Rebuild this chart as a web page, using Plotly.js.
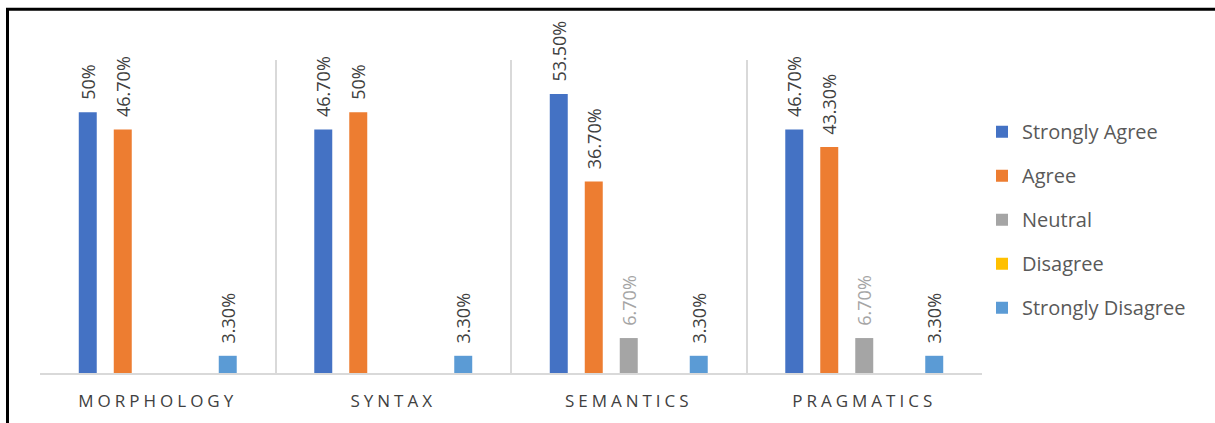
<!DOCTYPE html>
<html>
<head>
<meta charset="utf-8">
<script src="https://cdn.plot.ly/plotly-3.0.1.min.js"></script>
<style>
html,body{margin:0;padding:0;background:#fff;}
#chart{width:1215px;height:423px;}
#chart .xtick text{letter-spacing:4px;}
</style>
</head>
<body>
<div id="chart"></div>
<script>
var categories = ["MORPHOLOGY", "SYNTAX", "SEMANTICS", "PRAGMATICS"];
var seriesNames = ["Strongly Agree", "Agree", "Neutral", "Disagree", "Strongly Disagree"];
var stronglyAgree = [50, 46.7, 53.5, 46.7];
var agree = [46.7, 50, 36.7, 43.3];
var neutral = [0, 0, 6.7, 6.7];
var disagree = [0, 0, 0, 0];
var stronglyDisagree = [3.3, 3.3, 3.3, 3.3];
var labelsStronglyAgree = ["50%", "46.70%", "53.50%", "46.70%"];
var labelsAgree = ["46.70%", "50%", "36.70%", "43.30%"];
var labelsNeutral = ["", "", "6.70%", "6.70%"];
var labelsDisagree = ["", "", "", ""];
var labelsStronglyDisagree = ["3.30%", "3.30%", "3.30%", "3.30%"];

var colors = ["#4472C4", "#ED7D31", "#A5A5A5", "#FFC000", "#5B9BD5"];
var labelColors = ["#404040", "#404040", "#A5A5A5", "#404040", "#404040"];
var values = [stronglyAgree, agree, neutral, disagree, stronglyDisagree];
var labels = [labelsStronglyAgree, labelsAgree, labelsNeutral, labelsDisagree, labelsStronglyDisagree];

var pad = "\u00a0\u00a0";
var traces = seriesNames.map(function(name, i){
  return {
    type: "bar",
    name: name,
    x: categories,
    y: values[i],
    text: labels[i].map(function(t){ return t ? pad + t : ""; }),
    textposition: "outside",
    textangle: -90,
    constraintext: "none",
    cliponaxis: false,
    textfont: {family: "Open Sans, sans-serif", size: 18, color: labelColors[i]},
    marker: {color: colors[i]},
    legendgroup: "g" + i,
    hoverinfo: "skip"
  };
});

var layout = {
  width: 1215, height: 423,
  margin: {l: 40, r: 233, t: 60, b: 50},
  paper_bgcolor: "#fff",
  plot_bgcolor: "#fff",
  barmode: "group",
  bargap: 0.257,
  bargroupgap: 0.486,
  showlegend: true,
  legend: {
    x: 1.0, xanchor: "left", xref: "paper",
    y: 0.49, yanchor: "middle",
    traceorder: "grouped",
    tracegroupgap: 15,
    font: {family: "Open Sans, sans-serif", size: 20, color: "#595959"},
    bgcolor: "rgba(0,0,0,0)"
  },
  xaxis: {
    type: "category",
    tickson: "boundaries",
    showgrid: true,
    gridcolor: "#D9D9D9",
    gridwidth: 2,
    ticks: "",
    ticklabelstandoff: 12,
    showline: true,
    linecolor: "#D9D9D9",
    linewidth: 2,
    tickfont: {family: "Open Sans, sans-serif", size: 17, color: "#404040"},
    zeroline: false,
    fixedrange: true
  },
  yaxis: {
    range: [0, 60],
    showgrid: false,
    showticklabels: false,
    zeroline: false,
    showline: false,
    ticks: "",
    fixedrange: true
  },
  shapes: [{
    type: "rect", xref: "paper", yref: "paper",
    x0: -0.0345, x1: 1.3, y0: -0.3, y1: 1.162,
    line: {color: "#000", width: 3},
    fillcolor: "rgba(0,0,0,0)",
    layer: "above"
  }]
};

Plotly.newPlot("chart", traces, layout, {displayModeBar: false, staticPlot: true});
</script>
</body>
</html>
